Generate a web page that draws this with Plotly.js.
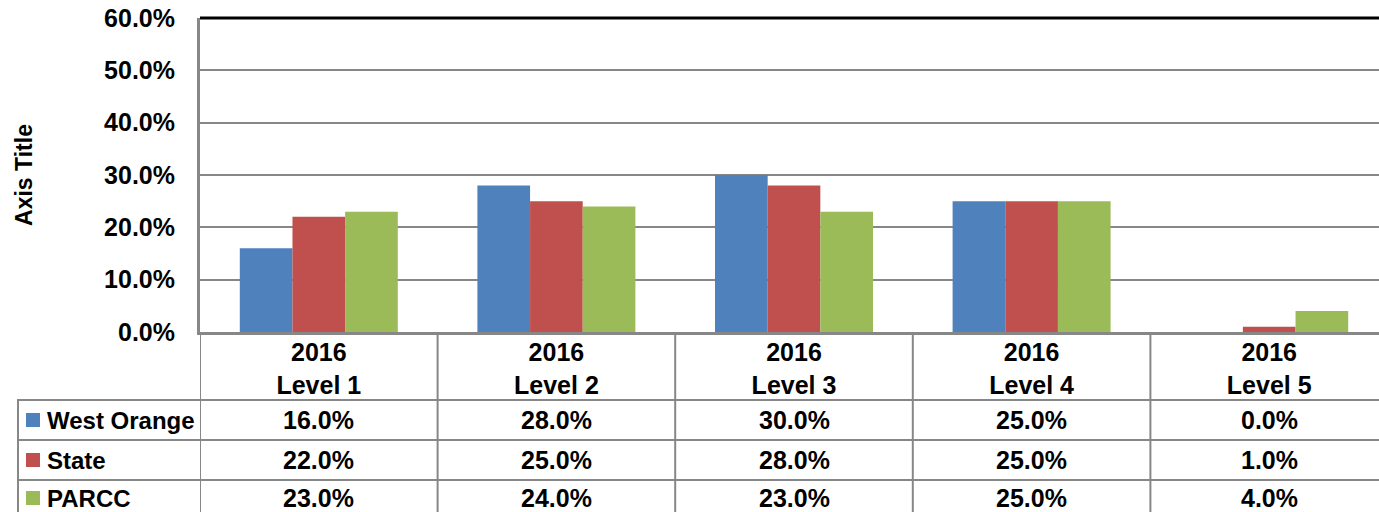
<!DOCTYPE html>
<html>
<head>
<meta charset="utf-8">
<script src="https://cdn.plot.ly/plotly-3.0.1.min.js"></script>
<style>html,body{margin:0;padding:0;background:#fff;}#chart{width:1379px;height:512px;}</style>
</head>
<body>
<div id="chart"></div>
<script>
// ---- data ----
const categories = ["2016<br>Level 1", "2016<br>Level 2", "2016<br>Level 3", "2016<br>Level 4", "2016<br>Level 5"];
const seriesNames = ["West Orange", "State", "PARCC"];
const westOrange = [16, 28, 30, 25, 0];
const state = [22, 25, 28, 25, 1];
const parcc = [23, 24, 23, 25, 4];
const yTickVals = [0, 10, 20, 30, 40, 50, 60];
const yTickText = ["0.0%", "10.0%", "20.0%", "30.0%", "40.0%", "50.0%", "60.0%"];
const axisTitle = "Axis Title";

// ---- styling ----
const colors = ["#4F81BD", "#C0504D", "#9BBB59"];
const W = 1379, H = 512;
const L = 200, R = 0, T = 18, B = 180;
const plotW = W - L - R, plotH = H - T - B;
const FONT = "Liberation Sans, Arial, sans-serif";
const gridCol = "#878787";
const xpx = p => (p - L) / plotW;          // pixel -> paper x
const ypx = p => (H - B - p) / plotH;      // pixel -> paper y
const catW = 237.6;
const xRange = [-0.5, -0.5 + plotW / catW];

const allSeries = [westOrange, state, parcc];
const traces = allSeries.map((vals, i) => ({
  type: "bar",
  name: seriesNames[i],
  x: categories,
  y: vals,
  marker: {color: colors[i], line: {width: 0}},
  hoverinfo: "none"
}));

const shapes = [];
const annotations = [];
// top black border
shapes.push({type: "line", xref: "paper", yref: "paper", x0: 0, x1: 1, y0: 1, y1: 1, line: {color: "#000", width: 3}});
// table vertical lines at category boundaries
for (let i = 0; i <= categories.length; i++) {
  shapes.push({type: "line", xref: "x", yref: "paper", x0: i - 0.5, x1: i - 0.5, y0: ypx(333), y1: ypx(H + 2), line: {color: gridCol, width: 2}});
}
// left border of row-label column
shapes.push({type: "line", xref: "paper", yref: "paper", x0: xpx(18), x1: xpx(18), y0: ypx(399), y1: ypx(H + 2), line: {color: gridCol, width: 2}});
// horizontal row lines
const rowLines = [400, 440, 480];
rowLines.forEach(p => shapes.push({type: "line", xref: "paper", yref: "paper", x0: xpx(17), x1: 1.01, y0: ypx(p), y1: ypx(p), line: {color: gridCol, width: 2}}));

// row labels, legend keys and values
const rowCenters = [420, 460, 498];
allSeries.forEach((vals, r) => {
  const yc = rowCenters[r];
  shapes.push({type: "rect", xref: "paper", yref: "paper", x0: xpx(26), x1: xpx(40), y0: ypx(yc - 7), y1: ypx(yc + 7), fillcolor: colors[r], line: {width: 0}});
  annotations.push({xref: "paper", yref: "paper", x: xpx(45), y: ypx(yc), xanchor: "left", yanchor: "middle", showarrow: false, text: seriesNames[r], font: {family: FONT, size: 24, color: "#000", weight: 700}});
  vals.forEach((v, c) => {
    annotations.push({xref: "x", yref: "paper", x: c, y: ypx(yc), xanchor: "center", yanchor: "middle", showarrow: false, text: v.toFixed(1) + "%", font: {family: FONT, size: 25, color: "#000", weight: 700}});
  });
});

const layout = {
  width: W, height: H,
  margin: {l: L, r: R, t: T, b: B, pad: 0},
  paper_bgcolor: "#fff", plot_bgcolor: "#fff",
  showlegend: false,
  barmode: "group",
  bargap: 0.335,
  bargroupgap: 0,
  font: {family: FONT, size: 24, color: "#000"},
  xaxis: {
    type: "category",
    range: xRange,
    showgrid: false,
    zeroline: false,
    showline: true, linecolor: gridCol, linewidth: 3,
    ticks: "", ticklabelstandoff: -4,
    tickfont: {family: FONT, size: 25, color: "#000", weight: 700},
    automargin: false, fixedrange: true
  },
  yaxis: {
    range: [0, 60],
    tickvals: yTickVals, ticktext: yTickText,
    showgrid: true, gridcolor: gridCol, gridwidth: 2,
    zeroline: false,
    showline: true, linecolor: gridCol, linewidth: 3,
    ticks: "", ticklabelstandoff: 17,
    tickfont: {family: FONT, size: 25, color: "#000", weight: 700},
    title: {text: axisTitle, standoff: 66, font: {family: FONT, size: 23, color: "#000", weight: 700}},
    automargin: false, fixedrange: true
  },
  shapes: shapes,
  annotations: annotations
};

Plotly.newPlot("chart", traces, layout, {displayModeBar: false, staticPlot: true});
</script>
</body>
</html>
